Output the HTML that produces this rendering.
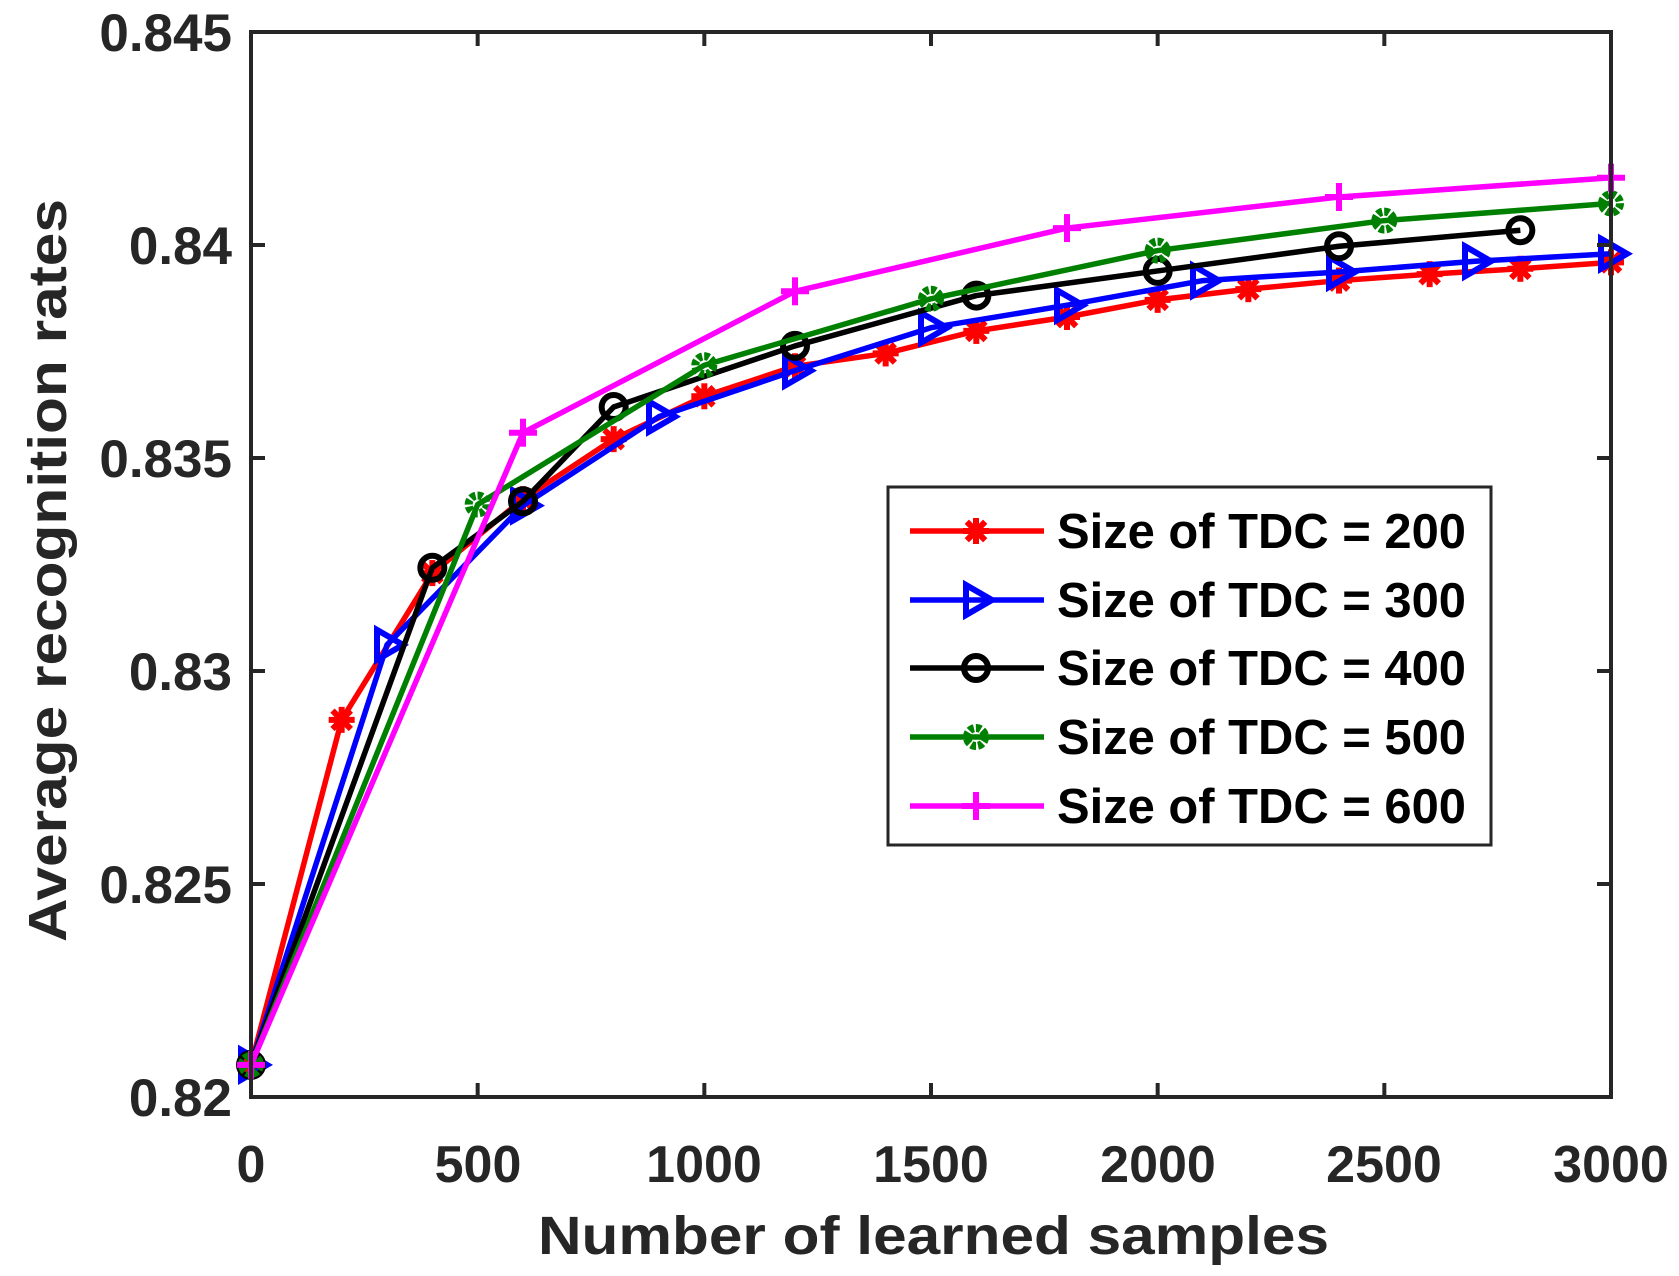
<!DOCTYPE html>
<html><head><meta charset="utf-8"><style>
html,body{margin:0;padding:0;background:#fff;}
svg{display:block;}
text{font-family:"Liberation Sans",Arial,sans-serif;font-weight:bold;fill:#262626;}
</style></head><body>
<svg id="s" width="1679" height="1276" viewBox="0 0 1679 1276" xmlns="http://www.w3.org/2000/svg">
<rect x="0" y="0" width="1679" height="1276" fill="#fff"/>
<g id="plot"></g>
<rect x="251" y="32" width="1360" height="1065" fill="none" stroke="#262626" stroke-width="4"/>
<g id="ticks" stroke="#262626" stroke-width="4"></g>
<g font-size="53" text-anchor="end">
<text x="232" y="51">0.845</text>
<text x="232" y="264">0.84</text>
<text x="232" y="477">0.835</text>
<text x="232" y="690">0.83</text>
<text x="232" y="903">0.825</text>
<text x="232" y="1116">0.82</text>
</g>
<g font-size="52" text-anchor="middle">
<text x="251" y="1182">0</text>
<text x="478" y="1182">500</text>
<text x="704" y="1182">1000</text>
<text x="931" y="1182">1500</text>
<text x="1158" y="1182">2000</text>
<text x="1384" y="1182">2500</text>
<text x="1611" y="1182">3000</text>
</g>
<text x="538" y="1254" font-size="54" textLength="791" lengthAdjust="spacingAndGlyphs">Number of learned samples</text>
<text transform="translate(66,942) rotate(-90)" x="0" y="0" font-size="54" textLength="743" lengthAdjust="spacingAndGlyphs">Average recognition rates</text>
<rect x="888" y="487" width="603" height="358" fill="#fff" stroke="#262626" stroke-width="3"/>
<g id="leg"></g>
</svg>
<script>
var NS="http://www.w3.org/2000/svg";
function X(v){return 251+v*1360/3000;}
function Y(r){return 32+(0.845-r)*42600;}
function VY(vy){var r=0.82+(1024-vy)/39760;return Y(r);}
var series=[
{c:"#ff0000",m:"star",p:[[0,994],[200,672],[400,535],[600,466],[800,410],[1000,370],[1200,342],[1400,330],[1600,309],[1800,296],[2000,280],[2200,270],[2400,262],[2600,256],[2800,251],[3000,245]]},
{c:"#0000ff",m:"tri",p:[[0,994],[300,602],[600,472],[900,389],[1200,346],[1500,306],[1800,285],[2100,262],[2400,254],[2700,244],[3000,237]]},
{c:"#000000",m:"circ",p:[[0,994],[400,530],[600,468],[800,380],[1200,323],[1600,276],[2000,253],[2400,230],[2800,215]]},
{c:"#008000",m:"gear",p:[[0,994],[500,471],[1000,341],[1500,279],[2000,234],[2500,206],[3000,190]]},
{c:"#ff00ff",m:"plus",p:[[0,994],[600,404],[1200,272],[1800,213],[2400,184],[3000,166]]}
];
function el(t,a,parent){var e=document.createElementNS(NS,t);for(var k in a)e.setAttribute(k,a[k]);parent.appendChild(e);return e;}
function marker(g,m,x,y,c){
 if(m=="star"){for(var i=0;i<4;i++){var a=i*Math.PI/4,dx=13*Math.cos(a),dy=13*Math.sin(a);el("line",{x1:x-dx,y1:y-dy,x2:x+dx,y2:y+dy,stroke:c,"stroke-width":6},g);} }
 else if(m=="tri"){el("polygon",{points:(x-10)+","+(y-15)+" "+(x+16)+","+y+" "+(x-10)+","+(y+15),fill:"none",stroke:c,"stroke-width":6},g);}
 else if(m=="circ"){el("circle",{cx:x,cy:y,r:12,fill:"none",stroke:c,"stroke-width":6},g);}
 else if(m=="gear"){el("circle",{cx:x,cy:y,r:9,fill:"none",stroke:c,"stroke-width":8,"stroke-dasharray":"5 2"},g);}
 else if(m=="plus"){el("line",{x1:x-14,y1:y,x2:x+14,y2:y,stroke:c,"stroke-width":6},g);el("line",{x1:x,y1:y-14,x2:x,y2:y+14,stroke:c,"stroke-width":6},g);}
}
var plot=document.getElementById("plot");
series.forEach(function(s){
 var pts=s.p.map(function(q){return X(q[0])+","+VY(q[1]);}).join(" ");
 el("polyline",{points:pts,fill:"none",stroke:s.c,"stroke-width":5.5,"stroke-linejoin":"round"},plot);
 s.p.forEach(function(q){marker(plot,s.m,X(q[0]),VY(q[1]),s.c);});
});
var tk=document.getElementById("ticks");
for(var i=1;i<6;i++){var x=X(i*500);el("line",{x1:x,y1:1097,x2:x,y2:1083},tk);el("line",{x1:x,y1:32,x2:x,y2:46},tk);}
for(var j=1;j<5;j++){var y=32+j*213;el("line",{x1:251,y1:y,x2:265,y2:y},tk);el("line",{x1:1611,y1:y,x2:1597,y2:y},tk);}
var leg=document.getElementById("leg");
var labs=["200","300","400","500","600"];
var rows=[531,600,668,737,806];
series.forEach(function(s,i){
 var y=rows[i];
 el("line",{x1:910,y1:y,x2:1044,y2:y,stroke:s.c,"stroke-width":5.5},leg);
 marker(leg,s.m,976,y,s.c);
 var t=el("text",{x:1057,y:y+17,"font-size":49,textLength:409,lengthAdjust:"spacingAndGlyphs"},leg);
 t.setAttribute("style","fill:#000");
 t.textContent="Size of TDC = "+labs[i];
});
</script>
</body></html>
